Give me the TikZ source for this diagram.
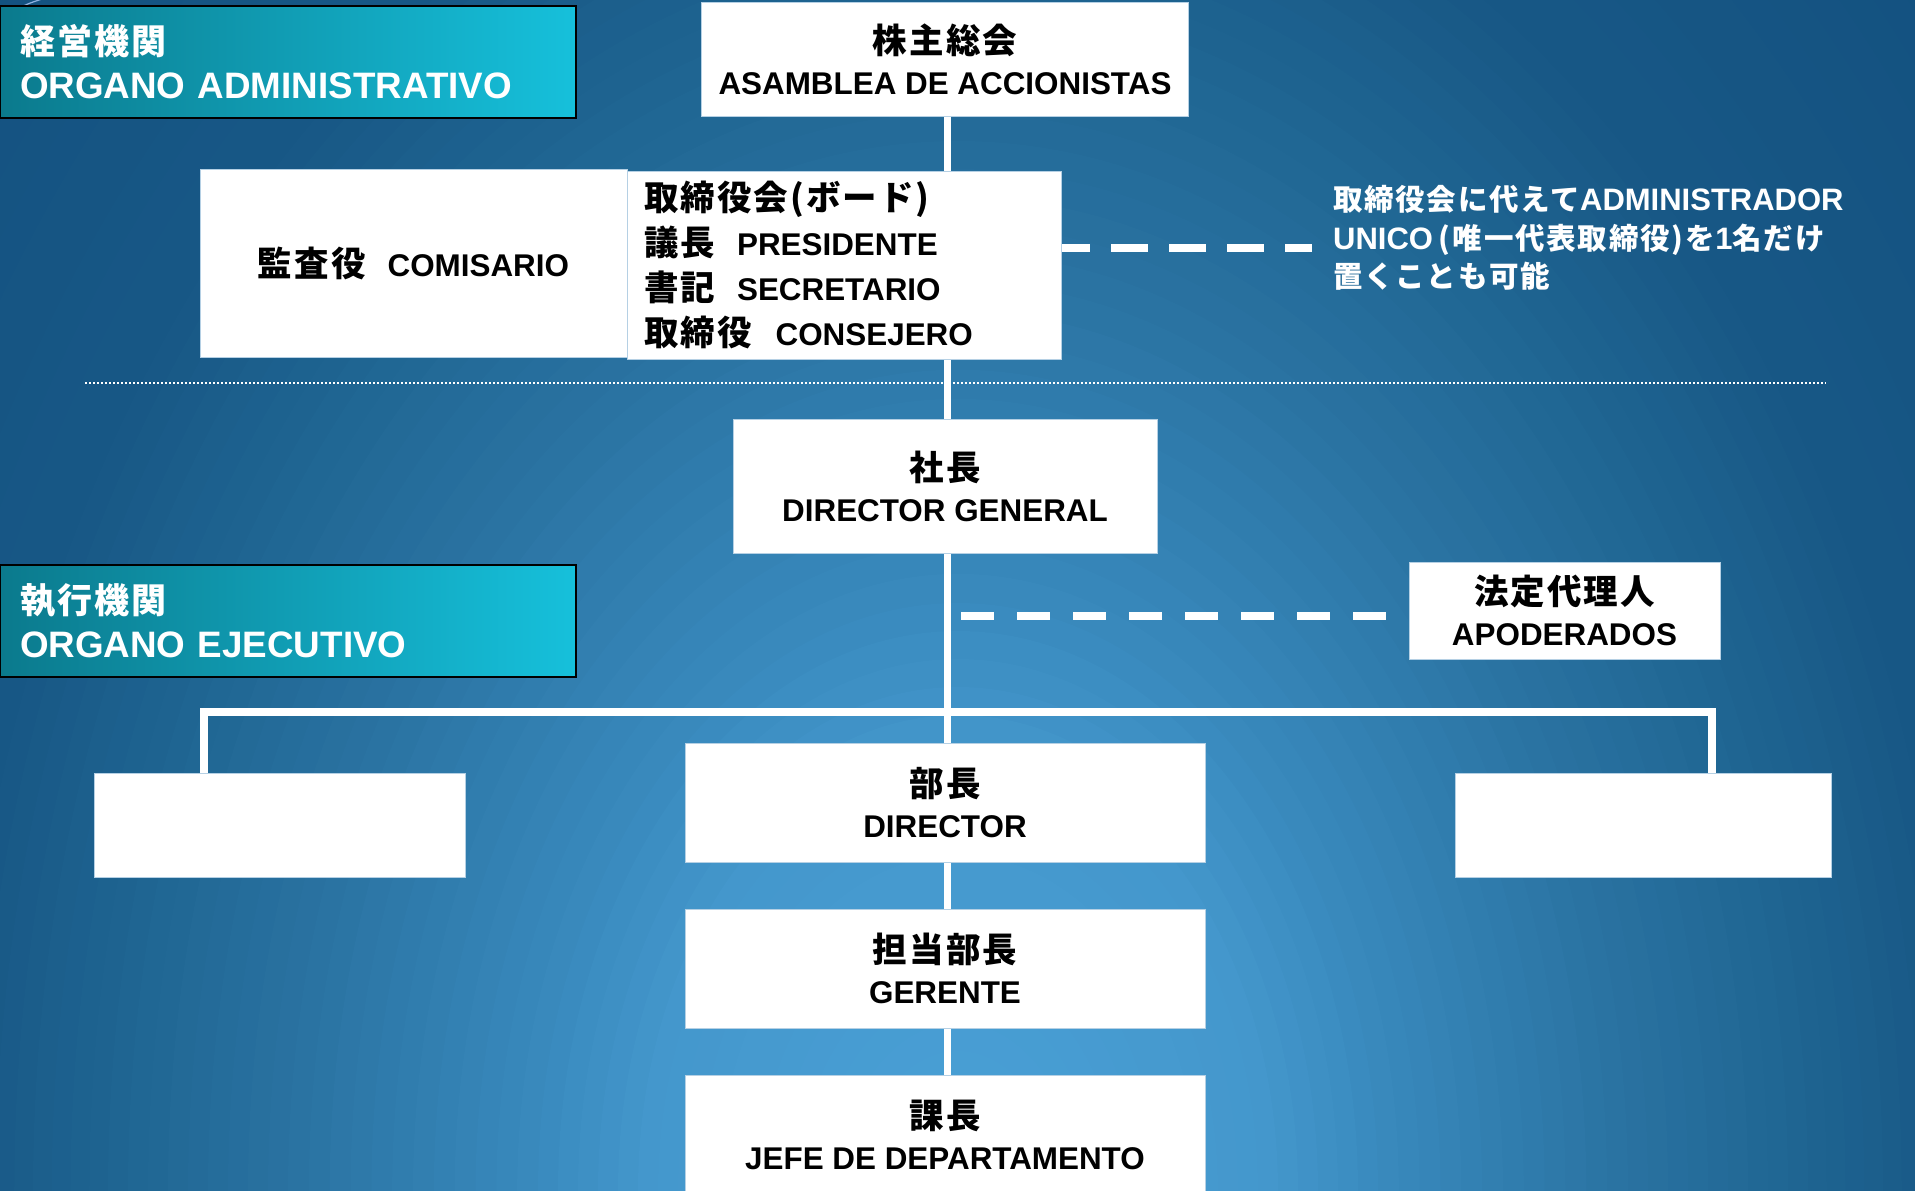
\documentclass[tikz,border=0pt]{standalone}
\usepackage{fontspec}
\setmainfont{Liberation Sans}
\newfontfamily\cjk{Noto Sans CJK JP}[LetterSpace=6]
\definecolor{bg0}{HTML}{4AA1D7}
\definecolor{bg1}{HTML}{4497CC}
\definecolor{bg2}{HTML}{3A8BBF}
\definecolor{bg3}{HTML}{2A73A2}
\definecolor{bg4}{HTML}{1F6592}
\definecolor{bg5}{HTML}{185886}
\definecolor{bg6}{HTML}{12507E}
\definecolor{lblL}{HTML}{0B7A8D}
\definecolor{lblR}{HTML}{16C0DB}
\definecolor{boxedge}{HTML}{B5D0E4}
\pgfdeclarelayer{bgl}
\pgfdeclarelayer{lnl}
\pgfsetlayers{bgl,lnl,main}
\newcommand\jb[1]{{\cjk\fontsize{34.5}{41}\selectfont #1}}
\newcommand\jl[1]{{\cjk\fontsize{35}{44}\selectfont #1}}
\newcommand\jn[1]{{\cjk\fontsize{29.5}{38.5}\selectfont #1}}
\tikzset{
  wbox/.style={fill=white, draw=boxedge, line width=0.8pt, inner sep=0pt, align=center, text=black, font=\fontsize{31.4}{41}\selectfont\bfseries},
  lbl/.style={draw=black, line width=2pt, left color=lblL, right color=lblR, text=white, align=left, inner xsep=20pt, inner ysep=0pt, text width=536pt, minimum height=112pt, font=\fontsize{36.8}{44}\selectfont\bfseries},
  conn/.style={draw=white, line width=7.5pt},
  dashconn/.style={draw=white, line width=8pt},
  sepline/.style={draw=white, line width=2pt, dash pattern=on 2pt off 2pt},
  notetext/.style={text=white, align=left, inner sep=0pt, font=\fontsize{31}{38.5}\selectfont\bfseries},
}
\begin{document}
\begin{tikzpicture}[x=1pt,y=-1pt]
\useasboundingbox (0,0) rectangle (1915,1191);
\begin{pgfonlayer}{bgl}
  \clip (0,0) rectangle (1915,1191);
  \fill[bg6] (0,0) rectangle (1915,1191);
  \foreach \da/\db/\ca/\cb/\n in {1.40/1.00/bg6/bg5/16, 1.00/0.85/bg5/bg4/8, 0.85/0.67/bg4/bg3/9, 0.67/0.42/bg3/bg2/12, 0.42/0.32/bg2/bg1/5, 0.32/0.0/bg1/bg0/16}{
    \pgfmathtruncatemacro\m{\n-1}
    \foreach \i in {0,...,\m}{
      \pgfmathsetmacro\d{\da+(\db-\da)*\i/\n}
      \pgfmathtruncatemacro\p{100*\i/\n}
      \fill[\cb!\p!\ca] (958,1191) ellipse [x radius=\d*1000pt, y radius=\d*1400pt];
    }
  }
  \draw[white!70!cyan!80!blue, line width=1.2pt] (18,9) .. controls (27,4) .. (42,-1);
\end{pgfonlayer}

\node[lbl] (adm) at (288,62) {\jl{経営機関}\\ORGANO ADMINISTRATIVO};
\node[lbl] (exe) at (288,621) {\jl{執行機関}\\ORGANO EJECUTIVO};

\node[wbox, minimum width=487pt, minimum height=114pt] (asm) at (945,59) {\jb{株主総会}\\ASAMBLEA DE ACCIONISTAS};
\node[wbox, minimum width=427pt, minimum height=188pt] (aud) at (413.5,263) {\jb{監査役}\hspace{22pt}COMISARIO};
\node[wbox, minimum width=434pt, minimum height=188pt, text width=400pt, inner xsep=17pt, align=left, font=\fontsize{31.4}{45}\selectfont\bfseries] (board) at (844,265)
  {\jb{取締役会(ボード)}\\\jb{議長}\hspace{22pt}PRESIDENTE\\\jb{書記}\hspace{22pt}SECRETARIO\\\jb{取締役}\hspace{24pt}CONSEJERO};
\node[wbox, minimum width=424pt, minimum height=134pt] (dg) at (945,486) {\jb{社長}\\DIRECTOR GENERAL};
\node[wbox, minimum width=311pt, minimum height=97pt] (apo) at (1564.5,610.5) {\jb{法定代理人}\\APODERADOS};
\node[wbox, minimum width=520pt, minimum height=119pt] (dir) at (945,802.5) {\jb{部長}\\DIRECTOR};
\node[wbox, minimum width=520pt, minimum height=119pt] (ger) at (945,968.5) {\jb{担当部長}\\GERENTE};
\node[wbox, minimum width=520pt, minimum height=119pt] (jefe) at (945,1134.5) {\jb{課長}\\JEFE DE DEPARTAMENTO};
\node[wbox, minimum width=371pt, minimum height=104pt] (lbox) at (279.5,825) {};
\node[wbox, minimum width=376pt, minimum height=104pt] (rbox) at (1643,825) {};

\node[notetext, anchor=west] (note) at (1333,238)
  {\jn{取締役会に代えて}ADMINISTRADOR\\UNICO\hspace{5pt}\jn{(}\hspace{3pt}\jn{唯一代表取締役}\hspace{1pt}\jn{)}\hspace{3pt}\jn{を}1\jn{名だけ}\\\jn{置くことも可能}};

\begin{pgfonlayer}{lnl}
  \draw[conn] ([xshift=2.5pt]asm.south) -- ([xshift=2.5pt]jefe.north);
  \coordinate (bl) at (204,712);
  \coordinate (brr) at (1712,712);
  \draw[conn, line width=8pt, line join=miter] (lbox.north -| bl) -- (bl) -- (brr) -- (rbox.north -| brr);
  \coordinate (s1) at (85,383);
  \coordinate (s2) at (1826,383);
  \draw[sepline] (s1) -- (s2);
  \coordinate (nt) at (1312,248);
  \draw[dashconn, dash pattern=on 37pt off 21pt, dash phase=8pt] (board.east |- nt) -- (nt);
  \coordinate (ad) at (947.5,616);
  \draw[dashconn, dash pattern=on 33pt off 23pt, dash phase=42.5pt] (ad) -- (apo.west |- ad);
\end{pgfonlayer}
\end{tikzpicture}
\end{document}
